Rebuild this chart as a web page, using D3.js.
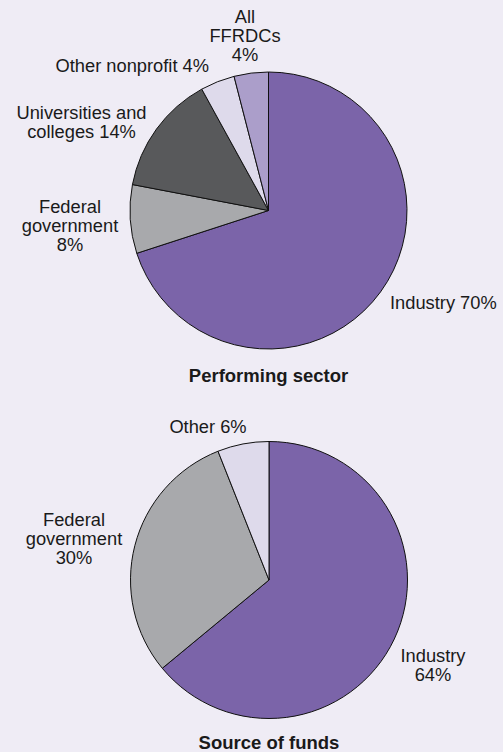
<!DOCTYPE html>
<html><head><meta charset="utf-8">
<script src="https://cdn.jsdelivr.net/npm/d3@7"></script>
<style>
html,body{margin:0;padding:0;background:#efecf5;}
text{font-family:"Liberation Sans",Arial,Helvetica,sans-serif;fill:#1a1a1a;}
</style></head>
<body>
<svg id="c" width="503" height="752"></svg>
<script>
// Data
const sectorCategories = ["Industry", "Federal government", "Universities and colleges", "Other nonprofit", "All FFRDCs"];
const sectorValues = [70, 8, 14, 4, 4];
const sectorLabels = [["Industry 70%"], ["Federal", "government", "8%"], ["Universities and", "colleges 14%"], ["Other nonprofit 4%"], ["All", "FFRDCs", "4%"]];

const fundCategories = ["Industry", "Federal government", "Other"];
const fundValues = [64, 30, 6];
const fundLabels = [["Industry", "64%"], ["Federal", "government", "30%"], ["Other 6%"]];

const titles = ["Performing sector", "Source of funds"];

// Styles / layout
const colors = {
  "Industry": "#7b64a9",
  "Federal government": "#a8a9ac",
  "Universities and colleges": "#58595b",
  "Other nonprofit": "#dedaeb",
  "All FFRDCs": "#ab9eca",
  "Other": "#dedaeb"
};
const svg = d3.select("#c");
const fs = 18.3, lh = 19;

const charts = [
  {cats: sectorCategories, vals: sectorValues, labels: sectorLabels, cx: 268.5, cy: 210.5, r: 138.5,
   title: titles[0], titleY: 382,
   labelPos: [[390, 309, "start"], [70, 213, "middle"], [81.5, 119, "middle"], [209, 72, "end"], [245, 23, "middle"]]},
  {cats: fundCategories, vals: fundValues, labels: fundLabels, cx: 269, cy: 580, r: 138.5,
   title: titles[1], titleY: 749,
   labelPos: [[433, 662, "middle"], [74, 526, "middle"], [208, 433, "middle"]]}
];

charts.forEach(ch => {
  const pie = d3.pie().sort(null).startAngle(0).endAngle(2 * Math.PI);
  const arcs = pie(ch.vals);
  const arc = d3.arc().innerRadius(0).outerRadius(ch.r);
  const g = svg.append("g").attr("transform", `translate(${ch.cx},${ch.cy})`);
  g.selectAll("path").data(arcs).join("path")
    .attr("d", arc)
    .attr("fill", (d, i) => colors[ch.cats[i]])
    .attr("stroke", "#111")
    .attr("stroke-width", 1)
    .attr("stroke-linejoin", "round");

  ch.labels.forEach((lines, i) => {
    const [x, y, anchor] = ch.labelPos[i];
    const t = svg.append("text").attr("x", x).attr("y", y)
      .attr("text-anchor", anchor).attr("font-size", fs);
    lines.forEach((ln, k) => {
      t.append("tspan").attr("x", x).attr("y", y + k * lh).text(ln);
    });
  });

  svg.append("text").attr("x", ch.cx).attr("y", ch.titleY)
    .attr("text-anchor", "middle").attr("font-size", 18.5).attr("font-weight", "bold")
    .text(ch.title);
});
</script>
</body></html>
